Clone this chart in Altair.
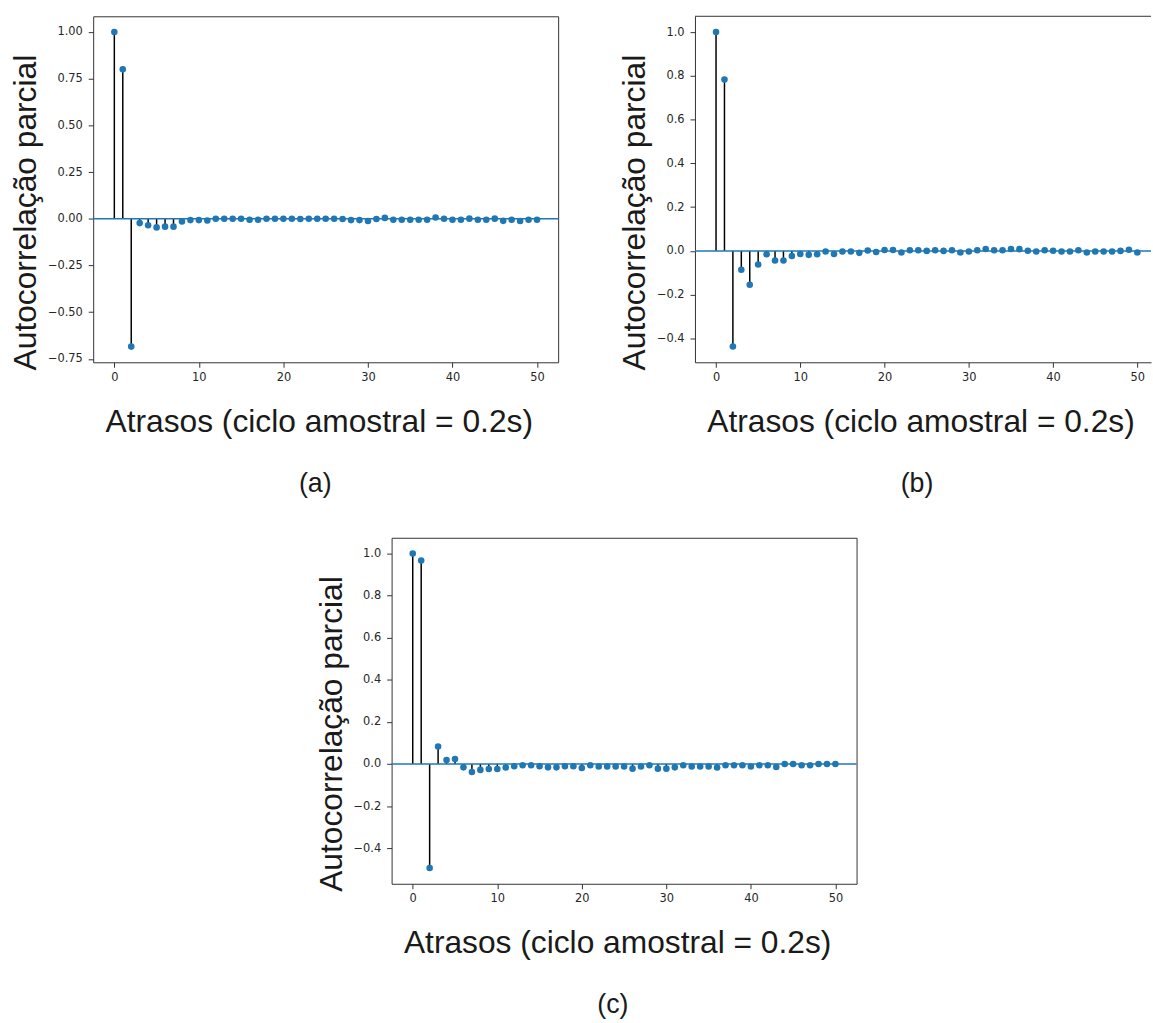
import altair as alt
import pandas as pd

lags = list(range(51))

pacf_a = [1.0, 0.80, -0.684, -0.023, -0.034, -0.046, -0.042, -0.042, -0.014, -0.007,
          -0.007, -0.009, 0.0, 0.0, 0.0, 0.0, -0.005, -0.005, 0.0, 0.0,
          0.0, 0.0, -0.001, 0.0, 0.0, 0.0, 0.0, -0.001, -0.007, -0.007,
          -0.012, -0.001, 0.005, -0.005, -0.005, -0.005, -0.005, -0.005, 0.007, 0.0,
          -0.005, -0.005, 0.001, -0.005, -0.005, 0.001, -0.011, -0.005, -0.012, -0.005,
          -0.005]

pacf_b = [1.0, 0.783, -0.437, -0.086, -0.155, -0.062, -0.015, -0.044, -0.044, -0.023,
          -0.014, -0.018, -0.015, -0.003, -0.014, -0.003, -0.003, -0.009, 0.002, -0.005,
          0.004, 0.004, -0.007, 0.003, 0.003, 0.0, 0.003, 0.0, 0.003, -0.007,
          -0.003, 0.003, 0.009, 0.003, 0.003, 0.009, 0.008, 0.001, -0.003, 0.003,
          0.001, -0.003, -0.003, 0.003, -0.007, -0.003, -0.003, -0.003, 0.0, 0.005,
          -0.007]

pacf_c = [1.0, 0.967, -0.494, 0.083, 0.019, 0.024, -0.016, -0.038, -0.028, -0.024,
          -0.024, -0.017, -0.011, -0.006, -0.006, -0.011, -0.016, -0.016, -0.011, -0.011,
          -0.019, -0.006, -0.012, -0.012, -0.012, -0.012, -0.022, -0.012, -0.006, -0.022,
          -0.022, -0.016, -0.006, -0.012, -0.012, -0.012, -0.017, -0.006, -0.006, -0.006,
          -0.012, -0.006, -0.006, -0.014, 0.0, 0.0, -0.006, -0.006, 0.0, 0.0,
          0.0]

x_title = "Atrasos (ciclo amostral = 0.2s)"
y_title = "Autocorrelação parcial"
captions = ["(a)", "(b)", "(c)"]
x_ticks = [0, 10, 20, 30, 40, 50]
y_ticks_a = [-0.75, -0.5, -0.25, 0.0, 0.25, 0.5, 0.75, 1.0]
y_ticks_bc = [-0.4, -0.2, 0.0, 0.2, 0.4, 0.6, 0.8, 1.0]

BLUE = "#1f77b4"
FONT = "Liberation Sans"
TICKFONT = "DejaVu Sans"
FRAME = "#333333"
TEXT = "#1a1a1a"
PW = 469
PH = 349


def panel(values, caption, ydom, yticks, yfmt, xmax, width, framed=True):
    df = pd.DataFrame({"lag": lags, "pacf": values})
    x = alt.X("lag:Q",
              scale=alt.Scale(domain=[-2.5, xmax], nice=False, zero=False),
              axis=alt.Axis(values=x_ticks, title=x_title, labelPadding=4,
                            titlePadding=24, titleX=PW / 2 - 7,
                            domain=not framed, domainColor=FRAME))
    y = alt.Y("pacf:Q",
              scale=alt.Scale(domain=ydom, nice=False, zero=False),
              axis=alt.Axis(values=yticks, format=yfmt, title=y_title,
                            labelPadding=6, titlePadding=5, titleY=PH / 2 + 23,
                            domain=not framed, domainColor=FRAME))
    base = alt.Chart(df)
    stems = base.mark_rule(color="black", strokeWidth=1.5).encode(
        x=x, y=y, y2=alt.datum(0))
    zero = alt.Chart(pd.DataFrame({"z": [0.0]})).mark_rule(
        color=BLUE, strokeWidth=1.5).encode(y=alt.Y("z:Q"))
    points = base.mark_circle(color=BLUE, size=44, opacity=1).encode(x=x, y=y)
    layers = [stems, zero, points]
    if not framed:
        top = alt.Chart(pd.DataFrame({"z": [0.0]})).mark_rule(
            color=FRAME, strokeWidth=1).encode(y=alt.value(0))
        layers.append(top)
    ch = alt.layer(*layers).properties(
        width=width, height=PH,
        title=alt.TitleParams(text=caption, orient="bottom", fontSize=27,
                              font=FONT, fontWeight="normal", color=TEXT,
                              anchor="start", frame="group", offset=34,
                              dx=PW / 2 - 27))
    if not framed:
        ch = ch.properties(view=alt.ViewBackground(stroke="transparent"))
    return ch


pa = panel(pacf_a, captions[0], [-0.768, 1.084], y_ticks_a, ".2f", 52.5, PW)
pb = panel(pacf_b, captions[1], [-0.509, 1.072], y_ticks_bc, ".1f", 51.62, 460,
           framed=False)
pc = panel(pacf_c, captions[2], [-0.569, 1.0747], y_ticks_bc, ".1f", 52.5, PW)

spacer = alt.Chart(pd.DataFrame({"v": [0]})).mark_point(opacity=0).encode(
    x=alt.X("v:Q", axis=None), y=alt.Y("v:Q", axis=None)
).properties(width=222, height=10, view=alt.ViewBackground(stroke="transparent"))

row1 = alt.hconcat(pa, pb, spacing=58)
row2 = alt.hconcat(spacer, pc, spacing=0)

chart = alt.vconcat(row1, row2, spacing=40).properties(
    padding={"left": 9, "top": 11, "right": 0, "bottom": 0}
).configure_view(
    stroke=FRAME, strokeWidth=1
).configure_axis(
    grid=False, labelFont=TICKFONT, labelFontSize=11.5, labelColor="#262626",
    tickColor=FRAME, tickSize=5, tickWidth=1,
    titleFont=FONT, titleFontSize=32, titleFontWeight="normal", titleColor=TEXT
).configure_title(
    font=FONT
)

chart.save("out.html", embed_options={"renderer": "svg", "actions": False})
